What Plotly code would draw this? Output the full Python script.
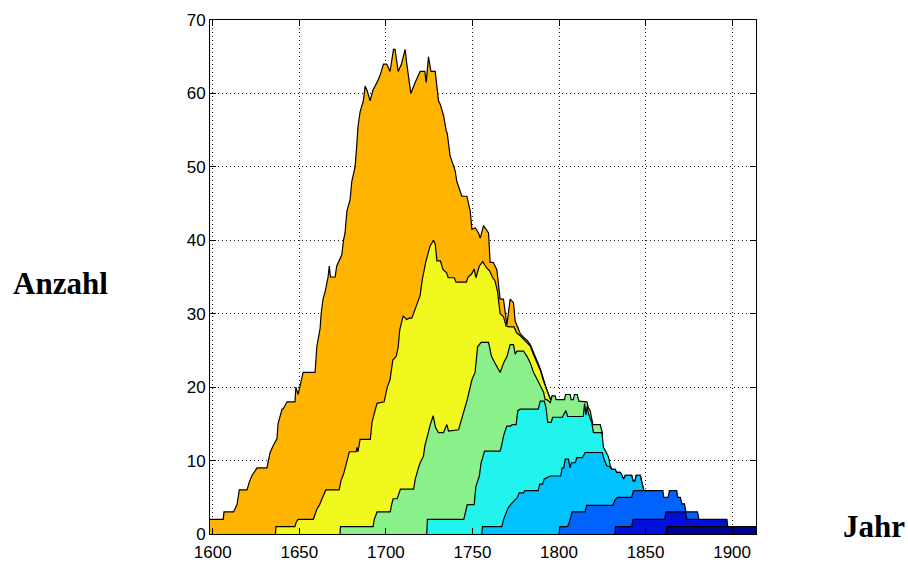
import plotly.graph_objects as go

# Cumulative counts per year; each series is drawn as an area from zero,
# the largest first so the smaller ones sit on top of it.
orange = [(1597, 2), (1606, 2), (1606.5, 3), (1612, 3), (1614, 4), (1615.3, 6), (1619.8, 6), (1621, 7),
          (1622.7, 8), (1625.6, 9), (1631.3, 9), (1633, 11), (1634.8, 12), (1637.1, 13), (1637.7, 15),
          (1640, 17), (1640.6, 17), (1642.9, 18), (1647.5, 18), (1648, 20), (1649.3, 19), (1650.4, 20),
          (1652.2, 22), (1659.1, 22), (1660.1, 25.5), (1662, 28), (1662.6, 30), (1663.7, 32), (1664.9, 33),
          (1666.6, 35), (1667.3, 36.5), (1668, 35), (1670.7, 35), (1671.6, 36.5), (1674.5, 38), (1675.5, 40),
          (1676.4, 41), (1677.5, 44), (1679.3, 45.5), (1680.3, 48), (1682.2, 50), (1683.2, 53), (1683.9, 55.5),
          (1685.1, 57.5), (1687, 59), (1688, 61), (1689, 60.5), (1690.9, 59), (1692.6, 60.5), (1694.9, 61.5),
          (1696.7, 62.5), (1698.6, 64), (1700.5, 64), (1702.4, 63), (1704.4, 66), (1705.3, 66), (1707.1, 63),
          (1709, 64), (1711.1, 66), (1712.1, 64), (1714.4, 60), (1716.9, 61.5), (1719.8, 63), (1722.5, 63),
          (1723.3, 61.5), (1724.6, 65), (1726, 63), (1728.5, 63), (1730.4, 59), (1731.4, 58.5), (1733.3, 57),
          (1734.8, 55), (1735.5, 54.5), (1737.1, 51.5), (1740, 49.5), (1741, 48), (1742.9, 46.5), (1743.9, 46),
          (1746.8, 46), (1747.7, 45), (1748.7, 44), (1749.7, 41.5), (1751.6, 41.7), (1753.5, 41), (1754.5, 40.3),
          (1756.4, 42), (1759.3, 41), (1760.2, 37), (1762, 37), (1764.1, 36), (1764.9, 34.5), (1766, 32),
          (1767.9, 32), (1769.9, 28.5), (1771.8, 32), (1773.7, 31.5), (1774.7, 29), (1776.6, 28),
          (1777.6, 27.3), (1779.5, 26.8), (1781.5, 26.4), (1783.4, 25.8), (1785.3, 24.6), (1787.3, 23.6),
          (1789.2, 22.5), (1791.1, 21), (1793, 19.6), (1795, 18.4), (1796.5, 18.8), (1796.5, 0)]

yellow = [(1636.2, 0), (1636.5, 1), (1647.4, 1), (1648.2, 1.6), (1649.3, 2), (1658.1, 2), (1660, 3.3),
          (1661.7, 4), (1663.5, 5), (1665.3, 6), (1673, 6), (1674, 7.2), (1675.6, 8.2), (1677.5, 9.8),
          (1678.9, 11.2), (1682.8, 11.2), (1683.3, 11.8), (1683.9, 11.2), (1685.1, 12.9), (1691, 12.9),
          (1692, 15.2), (1693.5, 16.6), (1694.9, 17.8), (1699, 18), (1700.8, 20), (1702.4, 21), (1704, 23.7),
          (1706, 24.2), (1707.1, 25.4), (1708, 27.8), (1710, 29.7), (1712, 29.2), (1713.5, 29.4), (1715, 29.4),
          (1717, 30.6), (1718.5, 31.5), (1719.8, 32.5), (1721, 34.6), (1723, 37), (1725.5, 39.2), (1727.5, 40),
          (1728.5, 39.5), (1729.5, 37.2), (1731.5, 37.2), (1733, 36), (1735, 35.6), (1736, 34.9),
          (1739.5, 34.9), (1740.5, 34.3), (1746.5, 34.3), (1747.5, 35), (1749.5, 35.4), (1751, 36.1),
          (1752, 34.9), (1754, 36.5), (1756, 37.1), (1758, 36.3), (1760, 35.8), (1761.5, 35), (1763, 34.5),
          (1764.5, 33), (1766, 30), (1767.9, 29.6), (1769.5, 28.3), (1771.5, 28.2), (1774, 28.2),
          (1775.5, 27.4), (1777.6, 27), (1779.5, 26.5), (1781.5, 26.1), (1783.4, 25.6), (1785.3, 24.4),
          (1787.3, 23.4), (1789.2, 22.3), (1791.1, 20.8), (1793, 19.5), (1795, 18.3), (1796.5, 18.8),
          (1796.5, 0)]

green = [(1673.5, 0), (1673.8, 1), (1692.6, 1), (1693.3, 2), (1694.9, 3), (1702.5, 3), (1703.3, 4),
         (1704.2, 4.8), (1706.5, 4.8), (1707.5, 5.5), (1708.4, 6.1), (1716, 6.1), (1717, 7.5), (1718.8, 9),
         (1719.8, 9.7), (1721.7, 10.6), (1722.5, 12), (1724.5, 13.8), (1725.4, 14.7), (1727.3, 16.1),
         (1728.7, 14.5), (1730.4, 13.8), (1733.3, 13.8), (1735.2, 14.9), (1736.2, 14), (1742, 14.2),
         (1743, 15), (1745, 16.5), (1747, 18.3), (1749.7, 21), (1751.5, 22), (1753, 25.5), (1755, 26.1),
         (1759.3, 26.1), (1761, 24.2), (1763, 23.3), (1766, 22), (1768, 23.3), (1770, 24.2), (1771.8, 25.8),
         (1773.7, 25.8), (1774.7, 24.5), (1775.7, 24.9), (1779.5, 24.9), (1781.5, 24.2), (1783.4, 23.3),
         (1785.3, 22), (1787.3, 21.1), (1789.2, 20.1), (1791.1, 19.3), (1792, 18.3), (1793, 18.3),
         (1795, 17.9), (1796, 18.8), (1797.8, 18.8), (1798.3, 18.3), (1803.2, 18.3), (1803.8, 19),
         (1806.5, 19), (1807, 18.3), (1808.3, 18.3), (1808.9, 19), (1810.5, 19), (1811.5, 18.1),
         (1816.1, 18), (1817, 17.2), (1818, 16.8), (1819, 15.5), (1819.6, 14.9), (1823.8, 14.9),
         (1824.5, 14.3), (1825, 13.8), (1825, 0)]

cyan = [(1723.6, 0), (1724, 2), (1745, 2), (1746, 3), (1747, 4), (1751, 4), (1752, 6.5), (1754, 7.9),
        (1755, 9.7), (1757, 11.3), (1766, 11.3), (1767, 12.2), (1768, 13.4), (1769.8, 14.7), (1772, 14.7),
        (1773, 14.9), (1775.2, 14.9), (1776.2, 16.8), (1777.6, 17), (1788, 17), (1789.2, 18.1),
        (1791.5, 18.1), (1792.5, 17.2), (1793.5, 15.2), (1795.5, 15.2), (1796.3, 15.9), (1802, 15.9),
        (1803, 16.4), (1804, 16.8), (1805, 16), (1814, 16), (1814.8, 17.8), (1815.5, 16.2), (1816.2, 17.4),
        (1817, 16.4), (1818.9, 15.2), (1819.9, 13.8), (1824.8, 13.8), (1825.7, 11.8), (1826.9, 11.3),
        (1828.6, 10.5), (1829.6, 9.3), (1830.6, 8.8), (1832.5, 8.8), (1833.2, 8.4), (1835.4, 8.4),
        (1836.4, 8), (1837.3, 7.5), (1838.3, 8), (1842, 8), (1842.8, 7.2), (1843.8, 7.2), (1844.6, 8),
        (1847, 8), (1848, 6.9), (1849, 5.9), (1849, 0)]

sky = [(1755.4, 0), (1755.8, 1), (1767, 1), (1768, 2), (1770.5, 3.5), (1772, 4), (1776, 5), (1777, 5.6),
       (1779.5, 5.6), (1780.2, 5.9), (1788, 5.9), (1788.8, 6.8), (1790.5, 6.8), (1791.5, 7.5), (1795, 7.9),
       (1801, 7.9), (1801.8, 9), (1802.8, 9), (1803.6, 10.2), (1805.5, 10.2), (1806.3, 9), (1807.2, 9.7),
       (1809.4, 9.7), (1810.3, 10.4), (1813.5, 10.4), (1815.1, 11.1), (1825, 11.1), (1826, 10.2),
       (1827.6, 9.3), (1829, 9.2), (1830.6, 8.8), (1832.5, 8.8), (1833.2, 8.4), (1835.4, 8.4), (1836.4, 8),
       (1837.3, 7.5), (1838.3, 8), (1842, 8), (1842.8, 7.2), (1843.8, 7.2), (1844.6, 8), (1847, 8),
       (1848, 6.9), (1849, 5.9), (1849, 0)]

blue = [(1800, 0), (1800.5, 1), (1805, 1), (1806.5, 2), (1807.5, 3), (1815, 3), (1816, 3.9), (1831, 3.9),
        (1832.5, 4.7), (1834, 5), (1842, 5), (1843, 5.9), (1860, 5.9), (1860.5, 5), (1863, 5), (1863.8, 5.9),
        (1868, 5.9), (1868.6, 5), (1870.1, 5), (1871, 4.1), (1872.5, 4.1), (1873.3, 3), (1880, 3),
        (1880.8, 2), (1880.8, 0)]

darkblue = [(1832.3, 0), (1832.7, 1), (1842, 1), (1842.8, 2), (1861, 2), (1861.8, 3), (1873, 3),
            (1873.8, 2), (1897, 2), (1897.5, 1), (1897.5, 0)]

navy = [(1862, 0), (1862.4, 1), (1916, 1)]

series = [
    (orange, "#FFB400"),
    (yellow, "#F0F81E"),
    (green, "#8AF08A"),
    (cyan, "#20F4EC"),
    (sky, "#00C2FF"),
    (blue, "#0062FF"),
    (darkblue, "#0010D8"),
    (navy, "#000090"),
]

year_ticks = [1600, 1650, 1700, 1750, 1800, 1850, 1900]
count_ticks = [0, 10, 20, 30, 40, 50, 60, 70]

fig = go.Figure()
for pts, colour in series:
    fig.add_trace(go.Scatter(
        x=[p[0] for p in pts],
        y=[p[1] for p in pts],
        mode="lines",
        fill="tozeroy",
        fillcolor=colour,
        line=dict(color="black", width=1.2),
        hoverinfo="skip",
        showlegend=False,
    ))

axis_common = dict(
    showgrid=True,
    gridcolor="#222222",
    gridwidth=1,
    griddash="1px,3px",
    showline=True,
    linecolor="black",
    linewidth=1,
    mirror="ticks",
    ticks="inside",
    ticklen=6,
    tickcolor="black",
    zeroline=False,
    automargin=False,
    tickfont=dict(family="Liberation Sans, Arial, sans-serif", size=17, color="black"),
)

fig.update_xaxes(range=[1598.4, 1913.8], tickvals=year_ticks, ticklabelstandoff=3, **axis_common)
fig.update_yaxes(range=[0, 70], tickvals=count_ticks, **axis_common)

label_font = dict(family="Liberation Serif, Times New Roman, serif", size=31, color="black")
fig.update_layout(
    width=908,
    height=563,
    margin=dict(l=210, r=152, t=20, b=29),
    paper_bgcolor="white",
    plot_bgcolor="white",
    annotations=[
        dict(text="<b>Anzahl</b>", xref="paper", yref="paper", x=-0.2747, y=0.488,
             xanchor="center", yanchor="middle", showarrow=False, font=label_font),
        dict(text="<b>Jahr</b>", xref="paper", yref="paper", x=1.216, y=0.014,
             xanchor="center", yanchor="middle", showarrow=False, font=label_font),
    ],
)

fig.write_html("out.html")
